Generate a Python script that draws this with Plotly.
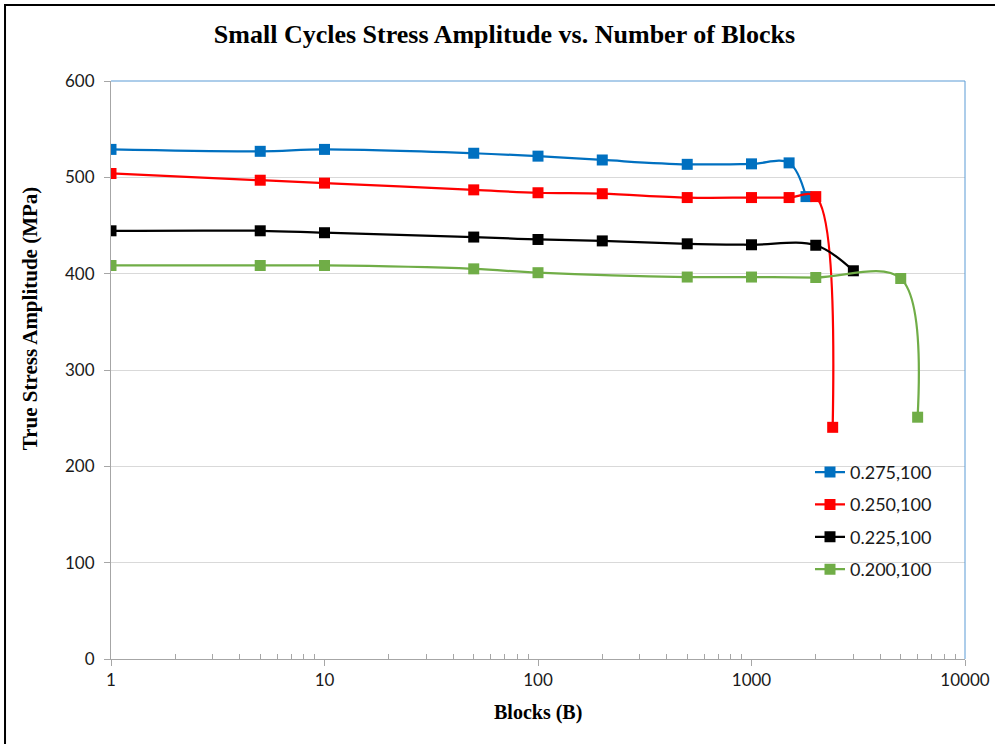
import plotly.graph_objects as go

# series data
blocks_275 = [1, 5, 10, 50, 100, 200, 500, 1000, 1500, 1800]
stress_275 = [529, 527, 529, 525, 522, 518, 513.5, 514, 515, 480]

blocks_250 = [1, 5, 10, 50, 100, 200, 500, 1000, 1500, 2000, 2400]
stress_250 = [504, 497, 494, 487, 484, 483, 479, 479, 479, 480, 240.5]

blocks_225 = [1, 5, 10, 50, 100, 200, 500, 1000, 2000, 3000]
stress_225 = [444.5, 444.5, 442.5, 438, 435.5, 434, 431, 430, 429.5, 403]

blocks_200 = [1, 5, 10, 50, 100, 500, 1000, 2000, 5000, 6000]
stress_200 = [408.5, 408.5, 408.5, 405, 401, 396.5, 396.5, 396, 395, 251]

series_names = ["0.275,100", "0.250,100", "0.225,100", "0.200,100"]
series_colors = ["#0070C0", "#FF0000", "#000000", "#70AD47"]

x_tickvals = [1, 10, 100, 1000, 10000]
x_ticktext = ["1", "10", "100", "1000", "10000"]
x_minor = [m * d for d in (1, 10, 100, 1000) for m in range(2, 10)]

all_x = [blocks_275, blocks_250, blocks_225, blocks_200]
all_y = [stress_275, stress_250, stress_225, stress_200]

fig = go.Figure()
for i, (xs, ys) in enumerate(zip(all_x, all_y)):
    fig.add_trace(go.Scatter(
        x=xs, y=ys, name=series_names[i],
        mode="lines+markers",
        line=dict(color=series_colors[i], width=2.25, shape="spline", smoothing=1.0),
        marker=dict(symbol="square", size=11, color=series_colors[i]),
        legendgroup=f"g{i}",
    ))

tick_font = dict(family="Lato", size=17, color="#1a1a1a")
axis_grey = "#A6A6A6"

fig.update_layout(
    width=995, height=744,
    margin=dict(l=111, r=30, t=81, b=85),
    paper_bgcolor="white", plot_bgcolor="white",
    showlegend=True,
    title=dict(
        text="<b>Small Cycles Stress Amplitude vs. Number of Blocks</b>",
        font=dict(family="Liberation Serif", size=26, color="black"),
        x=0.507, xanchor="center", y=0.954, yanchor="middle",
    ),
    legend=dict(
        x=0.8185, xanchor="left", y=0.355, yanchor="top",
        font=dict(family="Lato", size=18, color="#1a1a1a"),
        bgcolor="rgba(0,0,0,0)", tracegroupgap=6,
    ),
    xaxis=dict(
        type="log", range=[0, 4], automargin=False,
        tickvals=x_tickvals, ticktext=x_ticktext,
        ticks="outside", ticklen=6, tickcolor=axis_grey,
        showline=True, linecolor=axis_grey, linewidth=1,
        showgrid=False, zeroline=False,
        tickfont=tick_font,
        minor=dict(tickvals=x_minor, ticks="inside", ticklen=5,
                   tickcolor=axis_grey, showgrid=False),
    ),
    yaxis=dict(
        range=[0, 600], dtick=100, automargin=False,
        ticks="outside", ticklen=6, tickcolor=axis_grey,
        ticklabelstandoff=6,
        showline=True, linecolor=axis_grey, linewidth=1,
        showgrid=True, gridcolor="#D9D9D9", gridwidth=1,
        zeroline=False,
        tickfont=tick_font,
    ),
)

# light blue border on top and right of the plot area
fig.add_shape(type="line", xref="paper", yref="paper", x0=0, x1=1, y0=1, y1=1,
              line=dict(color="#5B9BD5", width=1))
fig.add_shape(type="line", xref="paper", yref="paper", x0=1, x1=1, y0=0, y1=1,
              line=dict(color="#5B9BD5", width=1))
# outer black frame (right/bottom fall outside the picture)
fig.add_shape(type="rect", xref="paper", yref="paper",
              x0=-0.1241, x1=1.2, y0=-0.3, y1=1.1315,
              line=dict(color="black", width=2))

fig.add_annotation(
    text="<b>Blocks (B)</b>", xref="paper", yref="paper",
    x=0.5, y=-0.092, xanchor="center", yanchor="middle", showarrow=False,
    font=dict(family="Liberation Serif", size=20, color="black"),
)
fig.add_annotation(
    text="<b>True Stress Amplitude (MPa)</b>", xref="paper", yref="paper",
    x=-0.0948, y=0.588, xanchor="center", yanchor="middle", showarrow=False,
    textangle=-90,
    font=dict(family="Liberation Serif", size=21, color="black"),
)

fig.write_html("out.html", config={"displayModeBar": False},
               post_script="document.body.style.margin='0';")
